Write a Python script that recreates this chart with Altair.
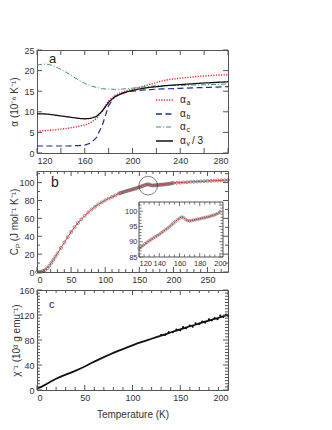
import altair as alt
import pandas as pd

FONT = "Liberation Sans"
TXT = "#333333"
FRAME = "#555555"

# ---------------- panel a : thermal expansion ----------------
T_A = [120, 125, 130, 135, 140, 145, 150, 155, 160, 165, 170, 175, 180, 185, 190, 195, 200,
       205, 210, 215, 220, 225, 230, 235, 240, 245, 250, 255, 260, 265, 270, 275, 280]
ALPHA_A = [5.3, 5.4, 5.5, 5.6, 5.8, 5.95, 6.2, 6.5, 6.8, 7.4, 8.4, 10.3, 12.7, 13.9, 14.6, 15.1, 15.5,
           15.9, 16.3, 16.7, 17.1, 17.5, 17.8, 18.0, 18.15, 18.3, 18.45, 18.6, 18.7, 18.8, 18.9, 18.95, 19.0]
ALPHA_B = [1.7, 1.7, 1.7, 1.7, 1.7, 1.7, 1.75, 1.8, 1.9, 2.4, 3.8, 7.0, 11.5, 13.6, 14.4, 14.8, 15.0,
           15.15, 15.3, 15.4, 15.5, 15.55, 15.6, 15.65, 15.7, 15.75, 15.8, 15.85, 15.9, 15.95, 16.0, 16.05, 16.1]
ALPHA_C = [21.3, 21.6, 21.5, 21.0, 20.3, 19.5, 18.6, 17.7, 16.9, 16.3, 15.9, 15.6, 15.5, 15.45, 15.5, 15.6, 15.75,
           15.9, 16.05, 16.2, 16.3, 16.35, 16.4, 16.4, 16.45, 16.45, 16.5, 16.5, 16.55, 16.6, 16.65, 16.7, 16.8]
ALPHA_V3 = [9.5, 9.5, 9.4, 9.2, 9.0, 8.8, 8.6, 8.4, 8.3, 8.4, 8.9, 10.3, 12.3, 13.6, 14.3, 14.8, 15.2,
            15.5, 15.75, 15.95, 16.1, 16.25, 16.4, 16.5, 16.6, 16.7, 16.8, 16.9, 17.0, 17.05, 17.15, 17.2, 17.3]
SERIES_A = ["αa", "αb", "αc", "αv/3"]
COLORS_A = ["#e8202a", "#1f2a96", "#3f9470", "#111111"]
DASHES_A = [[1.2, 1.4], [6, 3.5], [5, 2, 1, 2], [1, 0]]
WIDTHS_A = [1.4, 1.2, 1.0, 1.3]
LEG_MAIN = ["α", "α", "α", "α"]
LEG_SUB = ["a", "b", "c", "v"]
LEG_SUFFIX = ["", "", "", "/ 3"]
XA_LABELS = [120, 160, 200, 240, 280]
XA_TICKS = [120, 140, 160, 180, 200, 220, 240, 260, 280]
YA_LABELS = [0, 5, 10, 15, 20, 25]

# ---------------- panel b : heat capacity ----------------
T_B = [0, 3, 6, 9, 12, 15, 18, 21, 24, 27, 30, 35, 40, 45, 50, 55, 60, 65, 70, 75, 80, 85, 90, 95,
       100, 105, 110, 115,
       120, 122, 124, 126, 128, 130, 132, 134, 136, 138, 140, 142, 144, 146, 148, 150, 152, 154, 156, 158,
       160, 162, 164, 166, 168, 170, 172, 174, 176, 178, 180, 182, 184, 186, 188, 190, 192, 194, 196, 198, 200,
       205, 210, 215, 220, 225, 230, 235, 240, 245, 250, 255, 260, 265, 270, 275, 280]
CP_B = [0, 0.05, 0.3, 0.9, 2.2, 4.3, 7.0, 10.2, 13.6, 17.2, 20.8, 27, 33, 39, 44.8, 50, 54.8, 59, 63, 66.5, 70, 73, 75.7, 78,
        80.2, 82.2, 84.0, 85.8,
        87.8, 88.3, 88.8, 89.3, 89.8, 90.3, 90.7, 91.2, 91.6, 92.0, 92.4, 92.9, 93.4, 93.9, 94.4, 94.9, 95.5, 96.0, 96.6, 97.2,
        97.7, 98.1, 97.9, 97.3, 96.9, 96.8, 96.9, 97.1, 97.2, 97.4, 97.5, 97.7, 97.8, 98.0, 98.1, 98.3, 98.5, 98.7, 99.0, 99.3, 99.7,
        99.8, 100.0, 100.3, 100.5, 100.8, 101.0, 101.2, 101.4, 101.6, 101.8, 102.0, 102.2, 102.4, 102.5, 102.7, 102.8]
XB_LABELS = [0, 50, 100, 150, 200, 250]
XB_MINOR = [10, 20, 30, 40, 60, 70, 80, 90, 110, 120, 130, 140, 160, 170, 180, 190, 210, 220, 230, 240, 260, 270]
YB_LABELS = [0, 20, 40, 60, 80, 100]
YB_MINOR = [10, 30, 50, 70, 90, 110]
CIRCLE_T = [163]
CIRCLE_CP = [96.6]
XI_LABELS = [120, 140, 160, 180, 200]
XI_MINOR = [125, 130, 135, 145, 150, 155, 165, 170, 175, 185, 190, 195]
YI_LABELS = [85, 90, 95, 100]
YI_MINOR = [86, 87, 88, 89, 91, 92, 93, 94, 96, 97, 98, 99, 101, 102]

# ---------------- panel c : inverse susceptibility ----------------
T_C = [0, 2, 5, 10, 15, 20, 25, 30, 35, 40, 45, 50, 55, 60, 65, 70, 75, 80, 85, 90, 95, 100,
       105, 110, 115, 120, 125, 130, 135, 140, 145, 150, 155, 160, 165, 170, 175, 180, 185, 190, 195, 200]
CHI_C = [2, 3.5, 5.5, 9.5, 14, 18, 21.5, 24.5, 27.5, 30.5, 34, 37.5, 41.5, 45.5, 49, 52.5, 56, 59.5, 62.5, 65.5, 68.5, 71.5,
         74.5, 77, 79.5, 82, 84.5, 87, 89.5, 92, 94.5, 97, 99.5, 102, 104, 106.5, 109, 111, 113.5, 115.5, 118, 120]
T_CN = [130, 134, 138, 142, 146, 150, 153, 156, 160, 163, 166, 170, 173, 176, 180, 183, 186, 189, 192, 195, 198, 200]
CHI_CN = [88, 88, 92.5, 92.5, 96.5, 95.5, 100.5, 99, 103, 101.2, 106.5, 105.5, 109.5, 107.9, 113, 111.5, 115, 113.2,
          119, 117, 120.7, 119]
XC_LABELS = [0, 50, 100, 150, 200]
XC_MINOR = [10, 20, 30, 40, 60, 70, 80, 90, 110, 120, 130, 140, 160, 170, 180, 190]
YC_LABELS = [0, 40, 80, 120, 160]
YC_MINOR = [5, 10, 15, 20, 25, 30, 35, 45, 50, 55, 60, 65, 70, 75, 85, 90, 95, 100, 105, 110, 115,
            125, 130, 135, 140, 145, 150, 155]

PANEL_LABELS = ["a", "b", "c"]

W = 191
HA, HB, HC = 103, 101, 100
IX0, IX1, IY0, IY1 = 102, 186, 31, 86


def ax(values, title=None, **kw):
    base = dict(values=values, ticks=False, domain=False, grid=False, labelPadding=3,
                format="d", title=title)
    base.update(kw)
    return alt.Axis(**base)


def tick_rules(vals, ch, scale, axis, length, box, sides, width=1.0):
    x0, y0, x1, y1 = box
    df = pd.DataFrame({"v": vals})
    out = []
    for s in sides:
        if ch == "x":
            enc = {"x": alt.X("v:Q", scale=scale, axis=axis)}
            if s == "bottom":
                enc["y"] = alt.value(y1)
                enc["y2"] = alt.value(y1 - length)
            else:
                enc["y"] = alt.value(y0)
                enc["y2"] = alt.value(y0 + length)
        else:
            enc = {"y": alt.Y("v:Q", scale=scale, axis=axis)}
            if s == "left":
                enc["x"] = alt.value(x0)
                enc["x2"] = alt.value(x0 + length)
            else:
                enc["x"] = alt.value(x1)
                enc["x2"] = alt.value(x1 - length)
        out.append(alt.Chart(df).mark_rule(color=FRAME, strokeWidth=width).encode(**enc))
    return out


def panel_text(txt, x, y, size):
    return alt.Chart(pd.DataFrame({"t": [txt]})).mark_text(
        font=FONT, fontSize=size, color="#222222", align="left", baseline="middle"
    ).encode(text="t:N", x=alt.value(x), y=alt.value(y))


dummy = pd.DataFrame({"k": [0]})

# ---------------- build panel a ----------------
xa = alt.Scale(domain=[120, 280], nice=False, zero=False)
ya = alt.Scale(domain=[0, 25], nice=False, zero=False)
axa_x = ax(XA_LABELS)
axa_y = ax(YA_LABELS, title="α (10⁻⁶ K⁻¹)", titleX=-18)
rows = []
for name, vals in zip(SERIES_A, [ALPHA_A, ALPHA_B, ALPHA_C, ALPHA_V3]):
    for t, v in zip(T_A, vals):
        rows.append({"T": t, "alpha": v, "s": name})
df_a = pd.DataFrame(rows)

layers_a = []
for i, name in enumerate(SERIES_A):
    layers_a.append(
        alt.Chart(df_a).transform_filter(alt.datum.s == name).mark_line(
            color=COLORS_A[i], strokeDash=DASHES_A[i], strokeWidth=WIDTHS_A[i]
        ).encode(x=alt.X("T:Q", scale=xa, axis=axa_x), y=alt.Y("alpha:Q", scale=ya, axis=axa_y))
    )
box_a = (0, 0, W, HA)
layers_a += tick_rules(XA_TICKS, "x", xa, axa_x, 5, box_a, ["bottom", "top"])
layers_a += tick_rules(YA_LABELS, "y", ya, axa_y, 5, box_a, ["left", "right"])
LEG_Y = [50, 64, 77, 91]
for i in range(4):
    ry = LEG_Y[i]
    layers_a.append(alt.Chart(dummy).mark_rule(
        color=COLORS_A[i], strokeDash=DASHES_A[i], strokeWidth=WIDTHS_A[i] + 0.2
    ).encode(x=alt.value(119), x2=alt.value(136), y=alt.value(ry)))
    layers_a.append(panel_text(LEG_MAIN[i], 143, ry, 10))
    layers_a.append(panel_text(LEG_SUB[i], 149.5, ry + 3, 7))
    if LEG_SUFFIX[i]:
        layers_a.append(panel_text(LEG_SUFFIX[i], 155, ry, 10))
layers_a.append(panel_text(PANEL_LABELS[0], 12, 9, 13))
panel_a = alt.layer(*layers_a).properties(width=W, height=HA)

# ---------------- build panel b ----------------
xb = alt.Scale(domain=[0, 280], nice=False, zero=False)
yb = alt.Scale(domain=[0, 113], nice=False, zero=False)
axb_x = ax(XB_LABELS)
axb_y = ax(YB_LABELS, title="Cₚ (J mol⁻¹ K⁻¹)", titleX=-18)
df_b = pd.DataFrame({"T": T_B, "Cp": CP_B})
main_b = [
    alt.Chart(df_b).mark_point(shape="circle", size=9, filled=False, color="#4a4a4a", strokeWidth=0.8).encode(
        x=alt.X("T:Q", scale=xb, axis=axb_x), y=alt.Y("Cp:Q", scale=yb, axis=axb_y)),
    alt.Chart(df_b).mark_line(color="#d83a3a", strokeWidth=1).encode(
        x=alt.X("T:Q", scale=xb, axis=axb_x), y=alt.Y("Cp:Q", scale=yb, axis=axb_y)),
    alt.Chart(pd.DataFrame({"T": CIRCLE_T, "Cp": CIRCLE_CP})).mark_point(
        shape="circle", size=346, filled=False, color="#222222", strokeWidth=0.8
    ).encode(x=alt.X("T:Q", scale=xb, axis=axb_x), y=alt.Y("Cp:Q", scale=yb, axis=axb_y)),
]
box_b = (0, 0, W, HB)
main_b += tick_rules(XB_LABELS, "x", xb, axb_x, 5, box_b, ["bottom", "top"])
main_b += tick_rules(XB_MINOR, "x", xb, axb_x, 3, box_b, ["bottom", "top"])
main_b += tick_rules(YB_LABELS, "y", yb, axb_y, 5, box_b, ["left", "right"])
main_b += tick_rules(YB_MINOR, "y", yb, axb_y, 3, box_b, ["left", "right"])
main_b.append(panel_text(PANEL_LABELS[1], 14, 12, 14))
main_b_layer = alt.layer(*main_b)

xi = alt.Scale(domain=[120, 203], range=[IX0, IX1], nice=False, zero=False)
yi = alt.Scale(domain=[85, 103], range=[IY1, IY0], nice=False, zero=False)
axi_x = ax(XI_LABELS, orient="bottom", offset=-(HB - IY1), labelFontSize=7.5, labelPadding=2)
axi_y = ax(YI_LABELS, orient="left", offset=-IX0, labelFontSize=7.5, labelPadding=2)
df_i = df_b[(df_b["T"] >= 120) & (df_b["T"] <= 200)]
box_i = (IX0, IY0, IX1, IY1)
inset = [
    alt.Chart(dummy).mark_rect(fill="white", stroke=FRAME, strokeWidth=1).encode(
        x=alt.value(IX0), x2=alt.value(IX1), y=alt.value(IY0), y2=alt.value(IY1)),
    alt.Chart(df_i).mark_point(shape="circle", size=7, filled=False, color="#4a4a4a", strokeWidth=0.7).encode(
        x=alt.X("T:Q", scale=xi, axis=axi_x), y=alt.Y("Cp:Q", scale=yi, axis=axi_y)),
    alt.Chart(df_i).mark_line(color="#d83a3a", strokeWidth=0.9).encode(
        x=alt.X("T:Q", scale=xi, axis=axi_x), y=alt.Y("Cp:Q", scale=yi, axis=axi_y)),
]
inset += tick_rules(XI_LABELS, "x", xi, axi_x, 4, box_i, ["bottom", "top"], 0.8)
inset += tick_rules(XI_MINOR, "x", xi, axi_x, 2.5, box_i, ["bottom", "top"], 0.8)
inset += tick_rules(YI_LABELS, "y", yi, axi_y, 4, box_i, ["left", "right"], 0.8)
inset += tick_rules(YI_MINOR, "y", yi, axi_y, 2.5, box_i, ["left", "right"], 0.8)
inset_layer = alt.layer(*inset)

panel_b = alt.layer(main_b_layer, inset_layer).resolve_scale(
    x="independent", y="independent").properties(width=W, height=HB)

# ---------------- build panel c ----------------
xc = alt.Scale(domain=[0, 200], nice=False, zero=False)
yc = alt.Scale(domain=[0, 160], nice=False, zero=False)
axc_x = ax(XC_LABELS, title="Temperature (K)", titlePadding=7)
axc_y = ax(YC_LABELS, title="χ⁻¹ (10³ g emu⁻¹)", titleX=-16)
df_c = pd.DataFrame({"T": T_C, "chi": CHI_C})
df_cn = pd.DataFrame({"T": T_CN, "chi": CHI_CN})
layers_c = [
    alt.Chart(df_c).mark_line(color="#111111", strokeWidth=1.8).encode(
        x=alt.X("T:Q", scale=xc, axis=axc_x), y=alt.Y("chi:Q", scale=yc, axis=axc_y)),
    alt.Chart(df_cn).mark_point(shape="circle", size=5, filled=True, color="#111111", opacity=1).encode(
        x=alt.X("T:Q", scale=xc, axis=axc_x), y=alt.Y("chi:Q", scale=yc, axis=axc_y)),
]
box_c = (0, 0, W, HC)
layers_c += tick_rules(XC_LABELS, "x", xc, axc_x, 5, box_c, ["bottom", "top"])
layers_c += tick_rules(XC_MINOR, "x", xc, axc_x, 3, box_c, ["bottom", "top"])
layers_c += tick_rules(YC_LABELS, "y", yc, axc_y, 5, box_c, ["left", "right"])
layers_c += tick_rules(YC_MINOR, "y", yc, axc_y, 3, box_c, ["left", "right"])
layers_c.append(panel_text(PANEL_LABELS[2], 12, 15, 11))
panel_c = alt.layer(*layers_c).properties(width=W, height=HC)

chart = alt.vconcat(panel_a, panel_b, panel_c, spacing=18, bounds="flush").resolve_scale(
    x="independent", y="independent"
).properties(
    padding={"left": 0, "top": 37, "right": 0, "bottom": 0}
).configure(font=FONT).configure_view(stroke=FRAME, strokeWidth=1).configure_axis(
    labelFont=FONT, labelFontSize=9, labelColor=TXT,
    titleFont=FONT, titleFontSize=10, titleFontWeight="normal", titleColor=TXT,
)

chart.save("out.html", embed_options={"renderer": "svg", "actions": False})
